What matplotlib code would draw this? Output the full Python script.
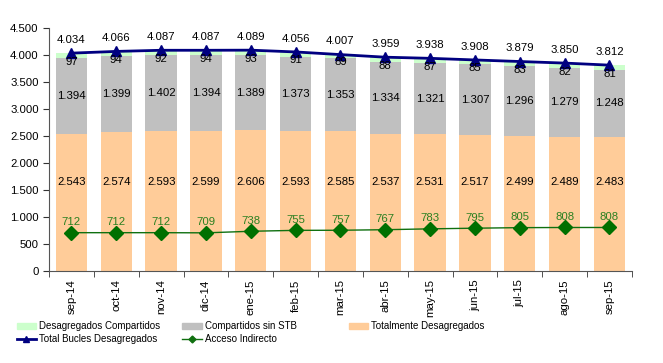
import matplotlib
matplotlib.use("Agg")
import matplotlib.pyplot as plt
from matplotlib.ticker import FuncFormatter, FixedLocator
from matplotlib.lines import Line2D
from matplotlib.patches import Patch
import numpy as np

plt.rcParams["font.family"] = ["Liberation Sans", "DejaVu Sans"]

# === datos ===
meses = ["sep-14", "oct-14", "nov-14", "dic-14", "ene-15", "feb-15", "mar-15",
         "abr-15", "may-15", "jun-15", "jul-15", "ago-15", "sep-15"]
totalmente = [2543, 2574, 2593, 2599, 2606, 2593, 2585, 2537, 2531, 2517, 2499, 2489, 2483]
compartidos_sin_stb = [1394, 1399, 1402, 1394, 1389, 1373, 1353, 1334, 1321, 1307, 1296, 1279, 1248]
desag_compartidos = [97, 94, 92, 94, 93, 91, 89, 88, 87, 85, 83, 82, 81]
total_bucles = [4034, 4066, 4087, 4087, 4089, 4056, 4007, 3959, 3938, 3908, 3879, 3850, 3812]
acceso_indirecto = [712, 712, 712, 709, 738, 755, 757, 767, 783, 795, 805, 808, 808]

c_verde_claro = "#ccffcc"
c_gris = "#c0c0c0"
c_naranja = "#ffcc99"
c_azul = "#000080"
c_verde = "#2a8020"


def fmt_miles(v):
    return f"{int(round(v)):,}".replace(",", ".")


fig = plt.figure(figsize=(6.63, 3.63), dpi=100)
ax = fig.add_axes([0.074, 0.253, 0.879, 0.670])

x = np.arange(len(meses))
w = 0.70
b1 = np.array(totalmente)
b2 = b1 + np.array(compartidos_sin_stb)

ax.bar(x, totalmente, w, color=c_naranja, zorder=1)
ax.bar(x, compartidos_sin_stb, w, bottom=b1, color=c_gris, zorder=1)
ax.bar(x, desag_compartidos, w, bottom=b2, color=c_verde_claro, zorder=1)

ax.plot(x, total_bucles, color=c_azul, lw=2.0, marker="^", ms=7, zorder=3)
ax.plot(x, acceso_indirecto, color="#107010", lw=1.0, marker="D", ms=7,
        mfc="#007000", mec="#007000", zorder=3)

fs = 8.2
for i in x:
    ax.text(i, 1650, fmt_miles(totalmente[i]), ha="center", va="center", fontsize=fs, color="black", zorder=4)
    ax.text(i, b1[i] + compartidos_sin_stb[i] / 2, fmt_miles(compartidos_sin_stb[i]),
            ha="center", va="center", fontsize=fs, color="black", zorder=4)
    ax.annotate(str(desag_compartidos[i]), (i, b2[i] + desag_compartidos[i]), xytext=(0, -2.5),
                textcoords="offset points", ha="center", va="top", fontsize=fs, zorder=4)
    ax.annotate(fmt_miles(total_bucles[i]), (i, total_bucles[i]), xytext=(0, 6),
                textcoords="offset points", ha="center", va="bottom", fontsize=fs, zorder=4)
    ax.annotate(str(acceso_indirecto[i]), (i, acceso_indirecto[i]), xytext=(0, 4),
                textcoords="offset points", ha="center", va="bottom", fontsize=fs,
                color=c_verde, zorder=4)

ax.set_xlim(-0.5, len(meses) - 0.5)
ax.set_ylim(0, 4500)
ax.yaxis.set_major_locator(FixedLocator(np.arange(0, 4501, 500)))
ax.yaxis.set_major_formatter(FuncFormatter(lambda v, p: fmt_miles(v)))
ax.set_xticks(x)
ax.set_xticklabels(meses, rotation=90, fontsize=fs)
ax.set_xticks(np.arange(-0.5, len(meses), 1.0), minor=True)
ax.tick_params(axis="x", which="major", length=0, pad=6)
ax.tick_params(axis="x", which="minor", length=4, color="#333333")
ax.tick_params(axis="y", length=4, labelsize=fs, color="#333333")
for s in ["top", "right"]:
    ax.spines[s].set_visible(False)
for s in ["left", "bottom"]:
    ax.spines[s].set_color("#555555")
    ax.spines[s].set_linewidth(0.8)

# === leyenda ===
leg_kw = dict(frameon=False, fontsize=7.0, handlelength=2.0, handleheight=0.5,
              handletextpad=0.3, labelspacing=0.25, borderaxespad=0, borderpad=0)
col1 = [Patch(color=c_verde_claro), Line2D([], [], color=c_azul, lw=2, marker="^", ms=5)]
col2 = [Patch(color=c_gris), Line2D([], [], color="#107010", lw=1, marker="D", ms=3.5)]
col3 = [Patch(color=c_naranja)]
fig.legend(col1, ["Desagregados Compartidos", "Total Bucles Desagregados"],
           loc="upper left", bbox_to_anchor=(0.025, 0.115), **leg_kw)
fig.legend(col2, ["Compartidos sin STB", "Acceso Indirecto"],
           loc="upper left", bbox_to_anchor=(0.275, 0.115), **leg_kw)
fig.legend(col3, ["Totalmente Desagregados"],
           loc="upper left", bbox_to_anchor=(0.526, 0.115), **leg_kw)

fig.savefig("out.png", dpi=100)
